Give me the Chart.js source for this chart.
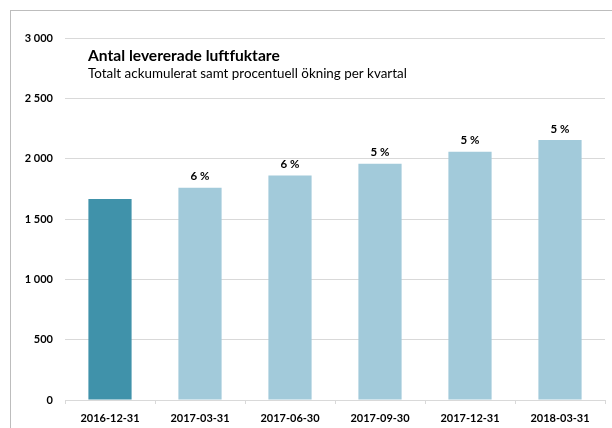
<!DOCTYPE html>
<html>
<head>
<meta charset="utf-8">
<script src="https://cdn.jsdelivr.net/npm/chart.js@4/dist/chart.umd.min.js"></script>
<style>
  html, body { margin: 0; padding: 0; background: #fff; }
  #wrap { position: relative; width: 612px; height: 428px; overflow: hidden; }
  #frame { position: absolute; left: 10px; top: 10px; width: 700px; height: 500px;
           border-left: 1px solid #bdbdbd; border-top: 1px solid #bdbdbd; }
  canvas { position: absolute; left: 0; top: 0; }
</style>
</head>
<body>
<div id="wrap">
  <div id="frame"></div>
  <canvas id="c" width="612" height="428"></canvas>
</div>
<script>
const categories = ['2016-12-31', '2017-03-31', '2017-06-30', '2017-09-30', '2017-12-31', '2018-03-31'];
const delivered = [1666, 1759, 1860, 1958, 2058, 2155];
const growthLabels = ['', '6 %', '6 %', '5 %', '5 %', '5 %'];
const yTicks = [0, 500, 1000, 1500, 2000, 2500, 3000];
const chartTitle = 'Antal levererade luftfuktare';
const chartSubtitle = 'Totalt ackumulerat samt procentuell ökning per kvartal';

const FONT = 'Lato, "Open Sans", "Liberation Sans", sans-serif';
const barColors = categories.map((c, i) => i === 0 ? '#4092aa' : '#a2cada');

function fmt(v) { return String(v).replace(/\B(?=(\d{3})+(?!\d))/g, ' '); }

const overlayText = {
  id: 'overlayText',
  afterDatasetsDraw(chart) {
    const ctx = chart.ctx;
    const meta = chart.getDatasetMeta(0);
    ctx.save();
    ctx.fillStyle = '#000';
    ctx.textAlign = 'center';
    ctx.textBaseline = 'middle';
    ctx.font = 'bold 11.5px ' + FONT;
    meta.data.forEach((bar, i) => {
      if (growthLabels[i]) ctx.fillText(growthLabels[i], bar.x, bar.y - 11);
    });
    ctx.textAlign = 'left';
    ctx.textBaseline = 'alphabetic';
    ctx.font = 'bold 15.6px ' + FONT;
    ctx.fillText(chartTitle, 88, 61);
    ctx.font = '13.4px ' + FONT;
    ctx.fillText(chartSubtitle, 88, 78);
    ctx.restore();
  }
};

new Chart(document.getElementById('c'), {
  type: 'bar',
  data: {
    labels: categories,
    datasets: [{
      data: delivered,
      backgroundColor: barColors,
      borderWidth: 0,
      categoryPercentage: 1,
      barPercentage: 0.48
    }]
  },
  options: {
    responsive: false,
    animation: false,
    layout: { padding: { left: 0, right: 7, top: 38, bottom: 0 } },
    plugins: { legend: { display: false }, tooltip: { enabled: false }, title: { display: false } },
    scales: {
      x: {
        grid: { drawOnChartArea: false, offset: true, tickLength: 4, color: '#d9d9d9' },
        border: { display: true, color: '#d9d9d9' },
        ticks: { color: '#000', font: { family: FONT, size: 11, weight: 'bold' }, padding: 8, maxRotation: 0 },
        afterFit(scale) { scale.height = 28; }
      },
      y: {
        min: 0, max: 3000,
        afterBuildTicks(scale) { scale.ticks = yTicks.map(v => ({ value: v })); },
        grid: { color: '#d9d9d9', drawTicks: false },
        border: { display: false },
        ticks: { color: '#000', font: { family: FONT, size: 11, weight: 'bold' }, padding: 12,
                 callback: v => fmt(v) },
        afterFit(scale) { scale.width = 65; }
      }
    }
  },
  plugins: [overlayText]
});
</script>
</body>
</html>
